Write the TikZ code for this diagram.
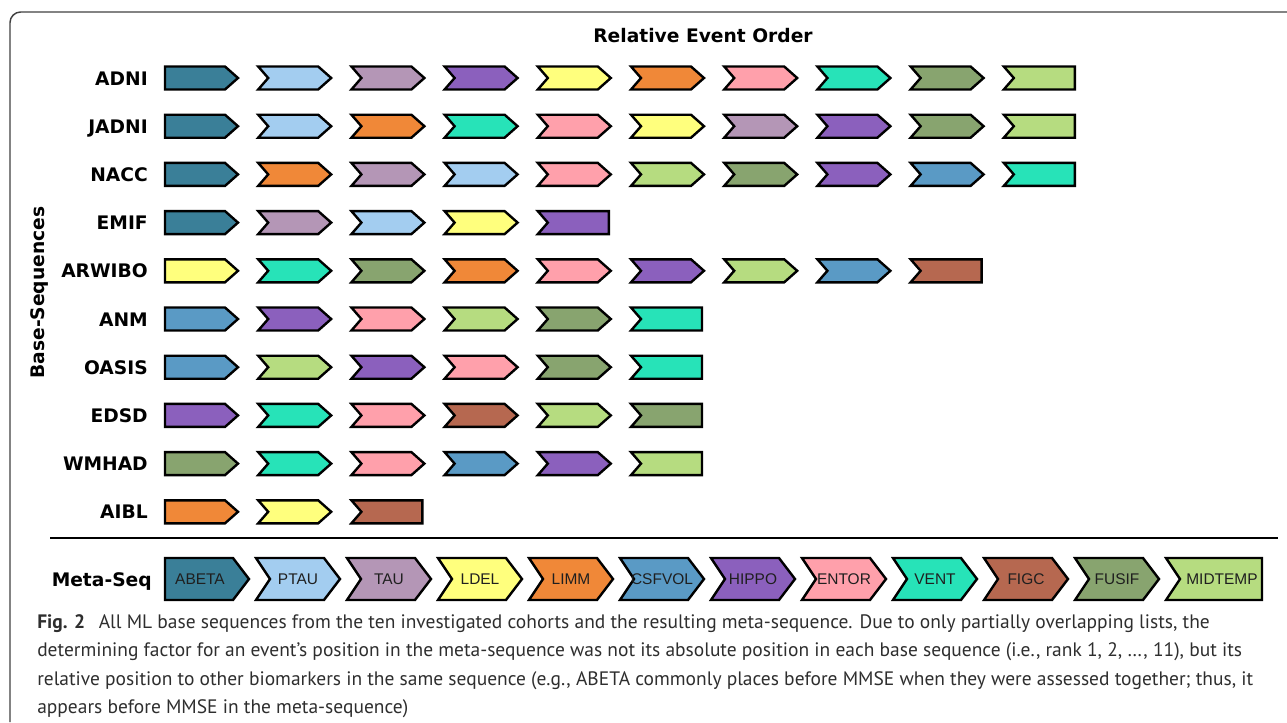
\documentclass[tikz,border=0pt]{standalone}
\usepackage{fontspec}
\setmainfont{DejaVu Sans}
\newfontfamily\metafont{Liberation Sans}
\newfontfamily\capfont{PT Sans}

\definecolor{abeta}{HTML}{3A7F98}
\definecolor{ptau}{HTML}{A3CDF0}
\definecolor{tau}{HTML}{B496B6}
\definecolor{ldel}{HTML}{FFFF7D}
\definecolor{limm}{HTML}{F08838}
\definecolor{csfvol}{HTML}{5A9AC5}
\definecolor{hippo}{HTML}{8B60BD}
\definecolor{entor}{HTML}{FFA0AB}
\definecolor{vent}{HTML}{27E3B8}
\definecolor{figc}{HTML}{B66850}
\definecolor{fusif}{HTML}{88A46F}
\definecolor{midtemp}{HTML}{B6DC80}

\tikzset{
  lbl/.style={font=\fontsize{14}{16}\selectfont\bfseries, inner sep=0pt},
  chev/.style={draw=black, line width=1.8pt, line join=miter},
  metalbl/.style={font=\metafont\fontsize{11.6}{14}\selectfont, text=black!88, inner sep=0pt},
  captxt/.style={font=\capfont\fontsize{14.6}{17}\selectfont, text=black!82, inner sep=0pt, anchor=base west},
}

\begin{document}
\begin{tikzpicture}[x=0.75pt,y=-0.75pt]
  \useasboundingbox (0,0) rectangle (1287,722);
  \draw[black!75, line width=1.1pt, rounded corners=8pt] (1287,12) -- (10,12) -- (10,722);

  \node[lbl, anchor=base] (title) at (703,42) {Relative Event Order};
  \node[lbl, anchor=base, rotate=90] (axis) at (44,292.5) {Base-Sequences};

  \foreach \name/\len/\seq [count=\r] in {
      ADNI/10/{abeta,ptau,tau,hippo,ldel,limm,entor,vent,fusif,midtemp},
      JADNI/10/{abeta,ptau,limm,vent,entor,ldel,tau,hippo,fusif,midtemp},
      NACC/10/{abeta,limm,tau,ptau,entor,midtemp,fusif,hippo,csfvol,vent},
      EMIF/5/{abeta,tau,ptau,ldel,hippo},
      ARWIBO/9/{ldel,vent,fusif,limm,entor,hippo,midtemp,csfvol,figc},
      ANM/6/{csfvol,hippo,entor,midtemp,fusif,vent},
      OASIS/6/{csfvol,midtemp,hippo,entor,fusif,vent},
      EDSD/6/{hippo,vent,entor,figc,midtemp,fusif},
      WMHAD/6/{fusif,vent,entor,csfvol,hippo,midtemp},
      AIBL/3/{limm,ldel,figc}} {
    \pgfmathsetmacro\ry{78+48.2*(\r-1)}
    \node[lbl, anchor=base east] (row\r) at (148,\ry+7) {\name};
    \foreach \c [count=\k] in \seq {
      \pgfmathsetmacro\xa{165+93.2*(\k-1)}
      \ifnum\k=1 \def\nn{0}\else\def\nn{10}\fi
      \ifnum\k=\len \def\tp{0}\def\w{71}\else\def\tp{13}\def\w{73}\fi
      \draw[chev, fill=\c] (\xa,\ry-11.5) -- (\xa+\w-\tp,\ry-11.5) -- (\xa+\w,\ry)
        -- (\xa+\w-\tp,\ry+11.5) -- (\xa,\ry+11.5) -- (\xa+\nn,\ry) -- cycle;
    }
  }

  \draw[line width=2.2pt] (50,538) -- (1278,538);

  \node[lbl, anchor=base east] (meta) at (152,586) {Meta-Seq};
  \foreach \c/\txt [count=\k] in {abeta/ABETA,ptau/PTAU,tau/TAU,ldel/LDEL,limm/LIMM,
      csfvol/CSFVOL,hippo/HIPPO,entor/ENTOR,vent/VENT,figc/FIGC,fusif/FUSIF,midtemp/MIDTEMP} {
    \pgfmathsetmacro\xa{165+91*(\k-1)}
    \ifnum\k=1 \def\nn{0}\else\def\nn{14}\fi
    \ifnum\k=12 \def\tp{0}\def\w{96}\else\def\tp{16}\def\w{84}\fi
    \draw[chev, fill=\c] (\xa,558) -- (\xa+\w-\tp,558) -- (\xa+\w,579)
      -- (\xa+\w-\tp,600) -- (\xa,600) -- (\xa+\nn,579) -- cycle;
    \node[metalbl, anchor=base] (m\k) at (\xa+\nn/2+\w/2-\tp/2+1,584.5) {\txt};
  }

  \node[captxt] (cap1) at (37,628) {\textbf{Fig. 2}\hspace{0.7em}All ML base sequences from the ten investigated cohorts and the resulting meta-sequence. Due to only partially overlapping lists, the};
  \node[captxt] (cap2) at (37,656.5) {determining factor for an event’s position in the meta-sequence was not its absolute position in each base sequence (i.e., rank 1, 2, \dots, 11), but its};
  \node[captxt] (cap3) at (37,685) {relative position to other biomarkers in the same sequence (e.g., ABETA commonly places before MMSE when they were assessed together; thus, it};
  \node[captxt] (cap4) at (37,713.5) {appears before MMSE in the meta-sequence)};
\end{tikzpicture}
\end{document}
